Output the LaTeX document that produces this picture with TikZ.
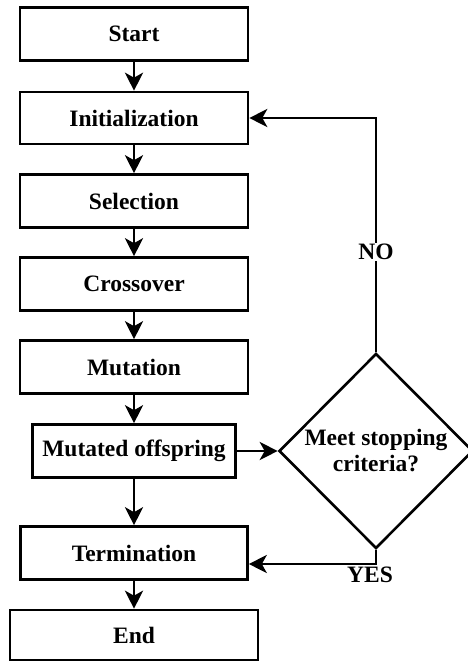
\documentclass[tikz,border=0pt]{standalone}
\usepackage{fontspec}
\setmainfont{Liberation Serif}
\usetikzlibrary{arrows.meta,shapes.geometric}
\begin{document}
\begin{tikzpicture}[x=1pt,y=-1pt,
  txt/.style={font=\fontsize{23.5}{26}\selectfont\bfseries},
  box/.style={draw,line width=2.6pt,rectangle,inner sep=0pt,txt},
  flow/.style={line width=2.6pt,-{Stealth[length=18pt,width=18pt,inset=5pt]}},
  lbl/.style={txt,inner sep=1pt}]
  \useasboundingbox (0,0) rectangle (467,662);
  % process column
  \node[box,minimum width=228pt,minimum height=53pt] (start) at (134,34) {Start};
  \node[box,minimum width=228pt,minimum height=52pt] (init) at (134,118) {Initialization};
  \node[box,minimum width=228pt,minimum height=53pt] (sel) at (134,201) {Selection};
  \node[box,minimum width=228pt,minimum height=53pt] (cross) at (134,284) {Crossover};
  \node[box,minimum width=228pt,minimum height=53pt] (mut) at (134,367) {Mutation};
  \node[box,minimum width=203pt,minimum height=53pt] (off) at (134,451) {Mutated offspring};
  \node[box,minimum width=227pt,minimum height=53pt] (term) at (134,553) {Termination};
  \node[box,minimum width=248pt,minimum height=50pt] (end) at (134,635) {End};
  % decision
  \node[draw,line width=2.6pt,diamond,aspect=1,inner sep=0pt,minimum width=194pt,minimum height=195pt,
        align=center,txt] (stop) at (376,451) {Meet stopping\\criteria?};
  % connectors
  \draw[flow] (start) -- (init);
  \draw[flow] (init) -- (sel);
  \draw[flow] (sel) -- (cross);
  \draw[flow] (cross) -- (mut);
  \draw[flow] (mut) -- (off);
  \draw[flow] (off) -- (term);
  \draw[flow] (term) -- (end);
  \draw[flow] (off.east) -- (stop.west);
  \node[lbl,fill=white] (no) at (376,252) {NO};
  \draw[line width=2.6pt] (stop.north) -- (no.south);
  \draw[flow] (no.north) |- (init.east);
  \coordinate (yescorner) at (376,564);
  \draw[flow] (stop.south) -- (yescorner) -- (term.east |- yescorner);
  \node[lbl,anchor=north] (yes) at (370,566) {YES};
\end{tikzpicture}
\end{document}
